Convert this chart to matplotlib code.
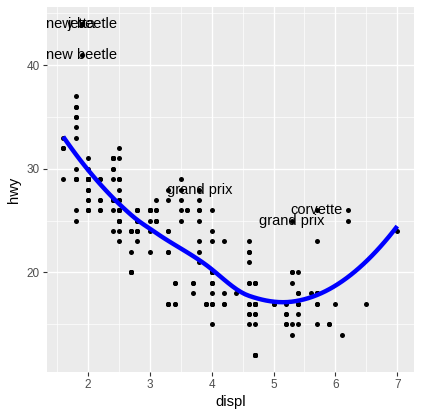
import numpy as np
import matplotlib
matplotlib.use("Agg")
import matplotlib.pyplot as plt
from matplotlib.ticker import MultipleLocator

# mpg data: engine displacement (displ) and highway mpg (hwy)
displ = [
    1.8, 1.8, 2.0, 2.0, 2.8, 2.8, 3.1,
    1.8, 1.8, 2.0, 2.0, 2.8, 2.8, 3.1, 3.1,
    2.8, 3.1, 4.2,
    5.3, 5.3, 5.3, 5.7, 6.0,
    5.7, 5.7, 6.2, 6.2, 7.0,
    5.3, 5.3, 5.7, 6.5,
    2.4, 2.4, 3.1, 3.5, 3.6,
    2.4, 3.0, 3.3, 3.3, 3.3, 3.3, 3.3, 3.8, 3.8, 3.8, 4.0,
    3.7, 3.7, 3.9, 3.9, 4.7, 4.7, 4.7, 5.2, 5.2,
    3.9, 4.7, 4.7, 4.7, 5.2, 5.7, 5.9,
    4.7, 4.7, 4.7, 4.7, 4.7, 4.7, 5.2, 5.2, 5.7, 5.9,
    4.6, 5.4, 5.4,
    4.0, 4.0, 4.0, 4.0, 4.6, 5.0,
    4.2, 4.2, 4.6, 4.6, 4.6, 5.4, 5.4,
    3.8, 3.8, 4.0, 4.0, 4.6, 4.6, 4.6, 4.6, 5.4,
    1.6, 1.6, 1.6, 1.6, 1.6, 1.8, 1.8, 1.8, 2.0,
    2.4, 2.4, 2.4, 2.4, 2.5, 2.5, 3.3,
    2.0, 2.0, 2.0, 2.0, 2.7, 2.7, 2.7,
    3.0, 3.7, 4.0, 4.7, 4.7, 4.7, 5.7, 6.1,
    4.0, 4.2, 4.4, 4.6,
    5.4, 5.4, 5.4,
    4.0, 4.0, 4.6, 5.0,
    2.4, 2.4, 2.5, 2.5, 3.5, 3.5,
    3.0, 3.0, 3.5,
    3.3, 3.3, 4.0, 5.6,
    3.1, 3.8, 3.8, 3.8, 5.3,
    2.5, 2.5, 2.5, 2.5, 2.5, 2.5,
    2.2, 2.2, 2.5, 2.5, 2.5, 2.5, 2.5, 2.5,
    2.7, 2.7, 3.4, 3.4, 4.0, 4.7,
    2.2, 2.2, 2.4, 2.4, 3.0, 3.0, 3.5,
    2.2, 2.2, 2.4, 2.4, 3.0, 3.0, 3.3,
    1.8, 1.8, 1.8, 1.8, 1.8,
    4.7, 5.7,
    2.7, 2.7, 2.7, 3.4, 3.4, 4.0, 4.0,
    2.0, 2.0, 2.0, 2.0, 2.8,
    1.9, 2.0, 2.0, 2.0, 2.0, 2.5, 2.5, 2.8, 2.8,
    1.9, 1.9, 2.0, 2.0, 2.5, 2.5,
    1.8, 1.8, 2.0, 2.0, 2.8, 2.8, 3.6,
]
hwy = [
    29, 29, 31, 30, 26, 26, 27,
    26, 25, 28, 27, 25, 25, 25, 25,
    24, 25, 23,
    20, 15, 20, 17, 17,
    26, 23, 26, 25, 24,
    19, 14, 15, 17,
    27, 30, 26, 29, 26,
    24, 24, 22, 22, 24, 24, 17, 22, 21, 23, 23,
    19, 18, 17, 17, 19, 19, 12, 17, 15,
    17, 17, 12, 17, 16, 18, 15,
    16, 12, 17, 17, 16, 12, 15, 16, 17, 15,
    17, 17, 18,
    17, 19, 17, 19, 19, 17,
    17, 17, 16, 16, 17, 15, 17,
    26, 25, 26, 24, 21, 22, 23, 22, 20,
    33, 32, 32, 29, 32, 34, 36, 36, 29,
    26, 27, 30, 31, 26, 26, 28,
    26, 29, 28, 27, 24, 24, 24,
    22, 19, 20, 17, 12, 19, 18, 14,
    15, 18, 18, 15,
    17, 16, 18,
    17, 19, 19, 17,
    29, 27, 31, 32, 27, 26,
    26, 25, 25,
    17, 17, 20, 18,
    26, 26, 27, 28, 25,
    25, 24, 27, 25, 26, 23,
    26, 26, 26, 26, 25, 27, 25, 27,
    20, 20, 19, 17, 20, 17,
    29, 27, 31, 31, 26, 26, 28,
    27, 29, 31, 31, 26, 26, 27,
    30, 33, 35, 37, 35,
    15, 18,
    20, 20, 22, 17, 19, 18, 20,
    29, 26, 29, 29, 24,
    44, 29, 26, 29, 29, 29, 29, 23, 24,
    44, 41, 29, 26, 28, 29,
    29, 29, 28, 29, 26, 26, 26,
]

# labelled cars
label_text = ["new beetle", "jetta", "new beetle", "grand prix", "grand prix", "corvette"]
label_displ = [1.9, 1.9, 1.9, 3.8, 5.3, 5.7]
label_hwy = [44, 44, 41, 28, 25, 26]

x_ticks = [2, 3, 4, 5, 6, 7]
y_ticks = [20, 30, 40]


def local_fit(x, y, x0, q, span):
    """Local quadratic fit (tricube weights) at x0: returns value, slope."""
    d2 = (x - x0) ** 2
    rho = np.sort(d2)[q - 1] * max(1.0, span)
    u = np.sqrt(d2 / rho)
    w = np.where(u < 1, (1 - u ** 3) ** 3, 0.0)
    X = np.column_stack([np.ones_like(x), x - x0, (x - x0) ** 2])
    W = np.sqrt(w)
    beta, *_ = np.linalg.lstsq(X * W[:, None], y * W, rcond=None)
    return beta[0], beta[1]


def loess_interp(x, y, xg, span=0.75, cell=0.2):
    """1-D loess like R's default surface='interpolate' (kd tree + Hermite)."""
    x = np.asarray(x, float)
    y = np.asarray(y, float)
    n = len(x)
    q = int(np.floor(n * span))
    fc = int(np.floor(n * span * cell))
    lo_, hi_ = x.min(), x.max()
    mu = 0.005 * max(hi_ - lo_, 1e-10 * max(abs(lo_), abs(hi_)) + 1e-30)
    box_lo, box_hi = lo_ - mu, hi_ + mu
    fd = 0.05 * (box_hi - box_lo)
    xs = np.concatenate([[np.nan], np.sort(x)])  # 1-based
    verts = {box_lo, box_hi}

    def split(l, u, vlo, vhi):
        if (u - l + 1) <= fc or (vhi - vlo) <= fd:
            return
        m = (l + u) // 2
        offset = 0
        while True:
            if (m + offset) >= u or (m + offset) < l:
                break
            if xs[m + offset] == xs[m + offset + 1]:
                offset = -offset
                if offset >= 0:
                    offset += 1
            else:
                m = m + offset
                break
        v = xs[m]
        if v == vlo or v == vhi:
            return
        verts.add(v)
        split(l, m, vlo, v)
        split(m + 1, u, v, vhi)

    split(1, n, box_lo, box_hi)
    vx = np.array(sorted(verts))
    vals = np.array([local_fit(x, y, v, q, span) for v in vx])
    out = []
    for xx in xg:
        i = np.searchsorted(vx, xx, side='right') - 1
        i = min(max(i, 0), len(vx) - 2)
        x0, x1 = vx[i], vx[i + 1]
        h = x1 - x0
        t = (xx - x0) / h
        f0, s0 = vals[i]
        f1, s1 = vals[i + 1]
        h00 = 2 * t ** 3 - 3 * t ** 2 + 1
        h10 = t ** 3 - 2 * t ** 2 + t
        h01 = -2 * t ** 3 + 3 * t ** 2
        h11 = t ** 3 - t ** 2
        out.append(h00 * f0 + h10 * h * s0 + h01 * f1 + h11 * h * s1)
    return np.array(out)


x_arr = np.array(displ, float)
y_arr = np.array(hwy, float)
xg = np.linspace(x_arr.min(), x_arr.max(), 80)
yg = loess_interp(x_arr, y_arr, xg)

plt.rcParams['font.family'] = ['Liberation Sans', 'DejaVu Sans']

fig = plt.figure(figsize=(4.22, 4.16), dpi=100)
ax = fig.add_axes([46.5 / 422, 44 / 416, (414 - 46.5) / 422, (372 - 7) / 416])
ax.set_facecolor('#EBEBEB')

xr = x_arr.max() - x_arr.min()
yr = y_arr.max() - y_arr.min()
ax.set_xlim(x_arr.min() - 0.05 * xr, x_arr.max() + 0.05 * xr)
ax.set_ylim(y_arr.min() - 0.05 * yr, y_arr.max() + 0.05 * yr)

ax.set_xticks(x_ticks)
ax.set_yticks(y_ticks)
ax.xaxis.set_minor_locator(MultipleLocator(0.5))
ax.yaxis.set_minor_locator(MultipleLocator(5))
ax.grid(which='major', color='white', linewidth=1.0)
ax.grid(which='minor', color='white', linewidth=0.5)
ax.set_axisbelow(True)
for s in ax.spines.values():
    s.set_visible(False)
ax.tick_params(which='major', length=3.0, width=0.8, color='#333333',
               labelcolor='#4D4D4D', labelsize=8.5, pad=2)
ax.tick_params(which='minor', length=0)

ax.scatter(x_arr, y_arr, s=13, color='black', linewidths=0, zorder=3)
ax.plot(xg, yg, color='#0000FF', linewidth=3.2, zorder=4, solid_capstyle='butt')

for t, lx, ly in zip(label_text, label_displ, label_hwy):
    ax.text(lx, ly, t, ha='center', va='center', fontsize=10.5, color='black', zorder=5)

ax.set_xlabel('displ', fontsize=10.6, labelpad=3)
ax.set_ylabel('hwy', fontsize=10.6, labelpad=4)

fig.savefig('out.png', dpi=100)
